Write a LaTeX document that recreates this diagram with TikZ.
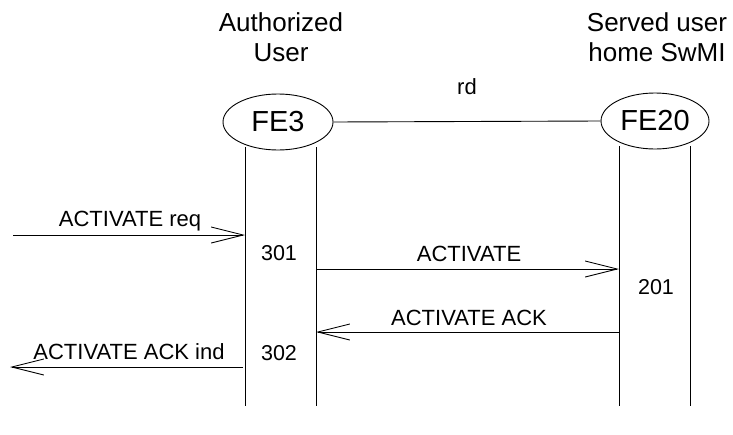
\documentclass[tikz,border=0pt]{standalone}
\usepackage{fontspec}
\setmainfont{Liberation Sans}
\usetikzlibrary{arrows.meta,shapes.geometric}
\tikzset{
  fe/.style={draw, ellipse, minimum width=110pt, minimum height=56pt, inner sep=0pt,
             line width=0.9pt, font=\fontsize{29}{32}\selectfont},
  head/.style={align=center, font=\fontsize{26}{30}\selectfont},
  lbl/.style={font=\fontsize{22}{24}\selectfont, inner sep=0pt},
  num/.style={font=\fontsize{21.5}{24}\selectfont, inner sep=0pt},
  life/.style={line width=0.9pt},
  msg/.style={line width=0.9pt, -{Straight Barb[length=32pt,width=16pt,line width=0.9pt]}}
}
\begin{document}
\begin{tikzpicture}[x=1pt,y=-1pt]
\useasboundingbox (0,0) rectangle (733,434);

% entity headers
\node[head] (hA) at (281,37) {Authorized\\User};
\node[head] (hS) at (657,37) {Served user\\home SwMI};

% functional entities
\node[fe] (fe3) at (278,122) {FE3};
\node[fe, minimum width=108pt] (fe20) at (655,121) {FE20};
\draw[life] (fe3.east) -- (fe20.west) node[lbl, midway, above=26pt] (rd) {rd};

% lifelines
\coordinate (a1t) at (245,147); \coordinate (a1b) at (245,406);
\coordinate (a2t) at (316,147); \coordinate (a2b) at (316,406);
\coordinate (b1t) at (619,146); \coordinate (b1b) at (619,406);
\coordinate (b2t) at (690,146); \coordinate (b2b) at (690,406);
\draw[life] (a1t) -- (a1b);
\draw[life] (a2t) -- (a2b);
\draw[life] (b1t) -- (b1b);
\draw[life] (b2t) -- (b2b);

% messages
\coordinate (in1) at (13,235);  \coordinate (in1e) at (245,235);
\draw[msg] (in1) -- (in1e);
\node[lbl] (l1) at (130,221) {ACTIVATE req};
\node[num] (n301) at (279,253) {301};

\coordinate (m1s) at (316,269); \coordinate (m1e) at (619,269);
\draw[msg] (m1s) -- (m1e);
\node[lbl] (l2) at (469,254) {ACTIVATE};
\node[num] (n201) at (656,287) {201};

\coordinate (m2s) at (619,332); \coordinate (m2e) at (316,332);
\draw[msg] (m2s) -- (m2e);
\node[lbl] (l3) at (469,318) {ACTIVATE ACK};
\node[num] (n302) at (279,353) {302};

\coordinate (o1s) at (243,367); \coordinate (o1e) at (10,367);
\draw[msg] (o1s) -- (o1e);
\node[lbl] (l4) at (129,352) {ACTIVATE ACK ind};
\end{tikzpicture}
\end{document}
